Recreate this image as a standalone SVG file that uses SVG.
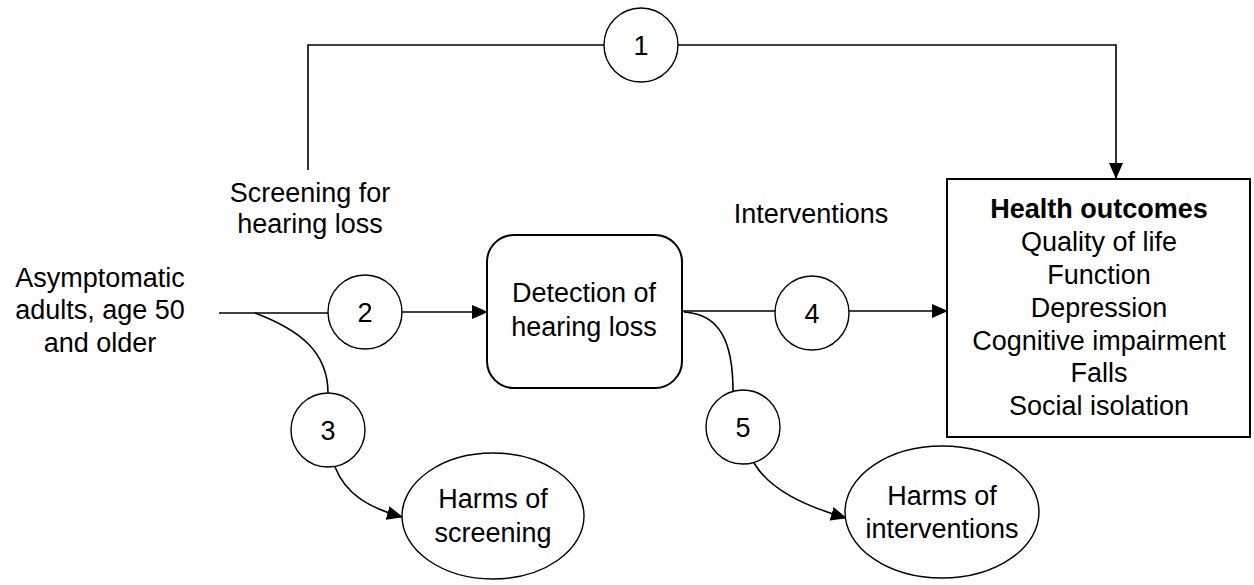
<svg xmlns="http://www.w3.org/2000/svg" width="1254" height="585" viewBox="0 0 1254 585">
<defs>
<style>
text{font-family:"Liberation Sans",Arial,sans-serif;font-size:27px;fill:#000;text-anchor:middle}
.b{font-weight:bold}
.ln{fill:none;stroke:#000;stroke-width:1.6}
.sh{fill:#fff;stroke:#000;stroke-width:1.4}
.bx{fill:#fff;stroke:#000;stroke-width:2}
</style>
<marker id="ah" markerWidth="16" markerHeight="14" refX="15" refY="7" orient="auto" markerUnits="userSpaceOnUse">
<path d="M0,0 L16,7 L0,14 Z" fill="#000"/>
</marker>
</defs>
<rect width="1254" height="585" fill="#fff"/>
<g id="connectors">
<path class="ln" d="M308,170 V45 H604"/>
<path class="ln" d="M678,45 H1116 V178" marker-end="url(#ah)"/>
<path class="ln" d="M219,313 H328"/>
<path class="ln" d="M402,312 H487" marker-end="url(#ah)"/>
<path class="ln" d="M255,313 C300,330 328,352 328,393"/>
<path class="ln" d="M335,467 C346,495 370,508 402,517" marker-end="url(#ah)"/>
<path class="ln" d="M682,311 H775"/>
<path class="ln" d="M849,311 H947" marker-end="url(#ah)"/>
<path class="ln" d="M684,312 C720,314 733,342 733,391"/>
<path class="ln" d="M754,463 C770,490 805,506 846,518" marker-end="url(#ah)"/>
</g>
<g id="start">
<text x="100" y="287">Asymptomatic</text>
<text x="100" y="319">adults, age 50</text>
<text x="100" y="352">and older</text>
</g>
<g id="label-screening">
<text x="310" y="202">Screening for</text>
<text x="310" y="233">hearing loss</text>
</g>
<g id="label-interventions">
<text x="811" y="223">Interventions</text>
</g>
<g id="kq1"><circle class="sh" cx="641" cy="45" r="37"/><text x="641" y="55">1</text></g>
<g id="kq2"><circle class="sh" cx="365" cy="312" r="37"/><text x="365" y="322">2</text></g>
<g id="kq3"><circle class="sh" cx="328" cy="430" r="37"/><text x="328" y="440">3</text></g>
<g id="kq4"><circle class="sh" cx="812" cy="313" r="37"/><text x="812" y="323">4</text></g>
<g id="kq5"><circle class="sh" cx="743" cy="427" r="37"/><text x="743" y="437">5</text></g>
<g id="detection">
<rect class="bx" x="487" y="235" width="195" height="153" rx="27" ry="27"/>
<text x="584" y="302">Detection of</text>
<text x="584" y="336">hearing loss</text>
</g>
<g id="harms-screening">
<ellipse class="sh" cx="493" cy="516" rx="91" ry="63"/>
<text x="493" y="508">Harms of</text>
<text x="493" y="542">screening</text>
</g>
<g id="harms-interventions">
<ellipse class="sh" cx="942" cy="512" rx="97" ry="66"/>
<text x="942" y="505">Harms of</text>
<text x="942" y="538">interventions</text>
</g>
<g id="health-outcomes">
<rect class="bx" x="947" y="179" width="303" height="258"/>
<text class="b" x="1099" y="218">Health outcomes</text>
<text x="1099" y="251">Quality of life</text>
<text x="1099" y="284">Function</text>
<text x="1099" y="317">Depression</text>
<text x="1099" y="350">Cognitive impairment</text>
<text x="1099" y="382">Falls</text>
<text x="1099" y="415">Social isolation</text>
</g>
</svg>
